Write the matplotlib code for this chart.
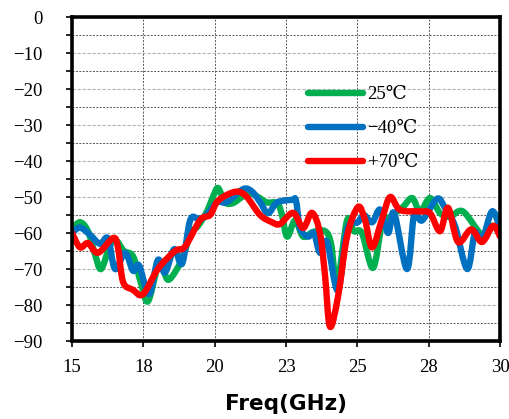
import matplotlib
matplotlib.use("Agg")
import matplotlib.pyplot as plt
from matplotlib.ticker import MultipleLocator, FixedLocator
from matplotlib.transforms import ScaledTranslation
from matplotlib.path import Path
from matplotlib.patches import PathPatch
from matplotlib.lines import Line2D

# ---- data ----
freq_25 = [15.00, 15.28, 15.56, 15.81, 16.02, 16.33, 16.54, 16.82, 17.14, 17.42, 17.66,
           17.98, 18.15, 18.36, 18.68, 18.93, 19.17, 19.42, 19.73, 19.94, 20.12, 20.36,
           20.64, 20.96, 21.24, 21.52, 21.83, 22.19, 22.36, 22.54, 22.82, 23.10, 23.45,
           23.87, 24.08, 24.29, 24.64, 24.88, 25.16, 25.55, 25.87, 26.15, 26.57, 26.92,
           27.20, 27.55, 27.90, 28.25, 28.70, 29.37, 29.72, 30.00]
val_25 = [-59, -57, -59.5, -66, -70, -63.5, -62, -65, -66.5, -74, -79,
          -70, -69, -73, -70, -65.5, -60, -58, -54, -50, -47.5, -51.5,
          -51.7, -50, -49, -50, -51.5, -51.7, -55, -61, -56.5, -61, -59.7,
          -59.5, -63, -74, -56.5, -59.5, -60, -69.7, -57.2, -55.5, -53, -50.3,
          -54, -50.3, -54.5, -55.5, -54, -60.5, -58, -60]

freq_m40 = [15.00, 15.28, 15.63, 15.98, 16.26, 16.51, 16.86, 17.14, 17.35, 17.70,
            18.01, 18.26, 18.58, 18.86, 19.14, 19.42, 19.66, 20.08, 20.43, 21.00,
            21.31, 21.59, 21.87, 22.19, 22.71, 22.85, 22.99, 23.27, 23.48, 23.69,
            23.94, 24.32, 24.64, 25.02, 25.23, 25.52, 25.80, 26.08, 26.29, 26.74,
            26.99, 27.27, 27.79, 28.07, 28.42, 28.85, 29.12, 29.37, 29.72, 30.00]
val_m40 = [-60, -58.5, -60.5, -63, -61.5, -70, -65.5, -70.5, -69, -77,
           -67.5, -71, -64.5, -68.5, -56.5, -56, -55.5, -51.5, -51.4, -47.8,
           -48.5, -51.4, -54.5, -51.5, -50.8, -51, -58.6, -61, -60, -65.5,
           -62.5, -76, -59, -57, -55, -57, -53.5, -60, -54.5, -70,
           -55, -56.5, -50.5, -53, -58, -70, -60, -62, -54, -58.5]

freq_p70 = [15.00, 15.28, 15.56, 15.91, 16.44, 16.61, 16.79, 17.14, 17.49, 18.01,
            18.61, 18.96, 19.49, 19.84, 20.08, 20.43, 20.82, 21.13, 21.59, 22.01,
            22.29, 22.75, 23.10, 23.41, 23.69, 23.87, 24.04, 24.32, 24.64, 25.02,
            25.27, 25.52, 25.87, 26.15, 26.50, 27.20, 27.55, 27.90, 28.18, 28.53,
            28.99, 29.37, 29.76, 30.00]
val_p70 = [-60, -64, -62.8, -65.5, -61.4, -64, -73.6, -75.8, -77, -70,
           -65, -63.8, -56.4, -55, -51.4, -49.4, -48.5, -50, -55, -57,
           -57.5, -54.4, -58.6, -54.4, -60, -72, -86, -77.8, -61, -52.8,
           -56.4, -64, -56, -50, -53.6, -54, -54.5, -59.5, -53, -62.5,
           -59, -62.5, -58, -61]

series_labels = ["25\u2103", "\u221240\u2103", "+70\u2103"]
series_colors = ["#00B050", "#0070C0", "#FF0000"]

x_ticks = [15, 17.5, 20, 22.5, 25, 27.5, 30]
x_tick_labels = ["15", "18", "20", "23", "25", "28", "30"]
y_ticks = [0, -10, -20, -30, -40, -50, -60, -70, -80, -90]
y_tick_labels = ["0", "\u221210", "\u221220", "\u221230", "\u221240",
                 "\u221250", "\u221260", "\u221270", "\u221280", "\u221290"]
x_label = "Freq(GHz)"


def smooth_path(xs, ys):
    """Excel-style smoothed line: cubic Bezier segments through the points."""
    n = len(xs)
    verts = [(xs[0], ys[0])]
    codes = [Path.MOVETO]
    for i in range(n - 1):
        x0, y0 = (xs[i - 1], ys[i - 1]) if i > 0 else (xs[i], ys[i])
        x1, y1 = xs[i], ys[i]
        x2, y2 = xs[i + 1], ys[i + 1]
        x3, y3 = (xs[i + 2], ys[i + 2]) if i + 2 < n else (xs[i + 1], ys[i + 1])
        c1 = (x1 + (x2 - x0) / 6.0, y1 + (y2 - y0) / 6.0)
        c2 = (x2 - (x3 - x1) / 6.0, y2 - (y3 - y1) / 6.0)
        verts += [c1, c2, (x2, y2)]
        codes += [Path.CURVE4, Path.CURVE4, Path.CURVE4]
    return Path(verts, codes)


# ---- figure ----
serif = ["Liberation Serif", "DejaVu Serif", "Noto Sans CJK SC"]
fig = plt.figure(figsize=(5.09, 4.19), dpi=100)
ax = fig.add_axes([72 / 509, 1 - 341 / 419, 428 / 509, 324 / 419])

LW = 4.6
handles = []
for fx, vy, lab, col in zip([freq_25, freq_m40, freq_p70],
                            [val_25, val_m40, val_p70],
                            series_labels, series_colors):
    patch = PathPatch(smooth_path(fx, vy), facecolor="none", edgecolor=col,
                      lw=LW, joinstyle="round", capstyle="round",
                      transform=ax.transData, zorder=3)
    ax.add_patch(patch)
    handles.append(Line2D([], [], color=col, lw=LW, solid_capstyle="round",
                          label=lab))

ax.set_xlim(15, 30)
ax.set_ylim(-90, 0)
ax.xaxis.set_major_locator(FixedLocator(x_ticks))
ax.set_xticklabels(x_tick_labels)
ax.yaxis.set_major_locator(FixedLocator(y_ticks))
ax.set_yticklabels(y_tick_labels)
ax.yaxis.set_minor_locator(MultipleLocator(5))

for lab in ax.get_xticklabels() + ax.get_yticklabels():
    lab.set_fontfamily(serif)
    lab.set_fontsize(13.5)
offset = ScaledTranslation(-5 / 100, 0, fig.dpi_scale_trans)
for lab in ax.get_xticklabels():
    lab.set_transform(lab.get_transform() + offset)

ax.tick_params(axis="both", which="both", direction="out", length=4, width=1.2,
               color="black")
ax.tick_params(axis="y", which="both", pad=17)
ax.tick_params(axis="x", which="major", pad=9)

for s in ax.spines.values():
    s.set_linewidth(2.6)
    s.set_color("black")
    s.set_zorder(4)

ax.grid(which="major", axis="y", color="#b4b4b4", linestyle=(0, (3, 1.5)), lw=0.8)
ax.grid(which="minor", axis="y", color="#555555", linestyle=(0, (2, 1.5)), lw=0.7)
ax.grid(which="major", axis="x", color="#555555", linestyle=(0, (2, 1.5)), lw=0.7)
ax.set_axisbelow(True)

ax.set_xlabel(x_label, fontsize=15.5, fontweight="bold", family="DejaVu Sans",
              labelpad=13)

leg = ax.legend(handles=handles, loc="upper left", bbox_to_anchor=(0.535, 0.81),
                frameon=False, prop={"family": serif, "size": 13.5},
                handlelength=2.9, handletextpad=0.25, labelspacing=0.9,
                borderaxespad=0)

fig.savefig("out.png", dpi=100)
